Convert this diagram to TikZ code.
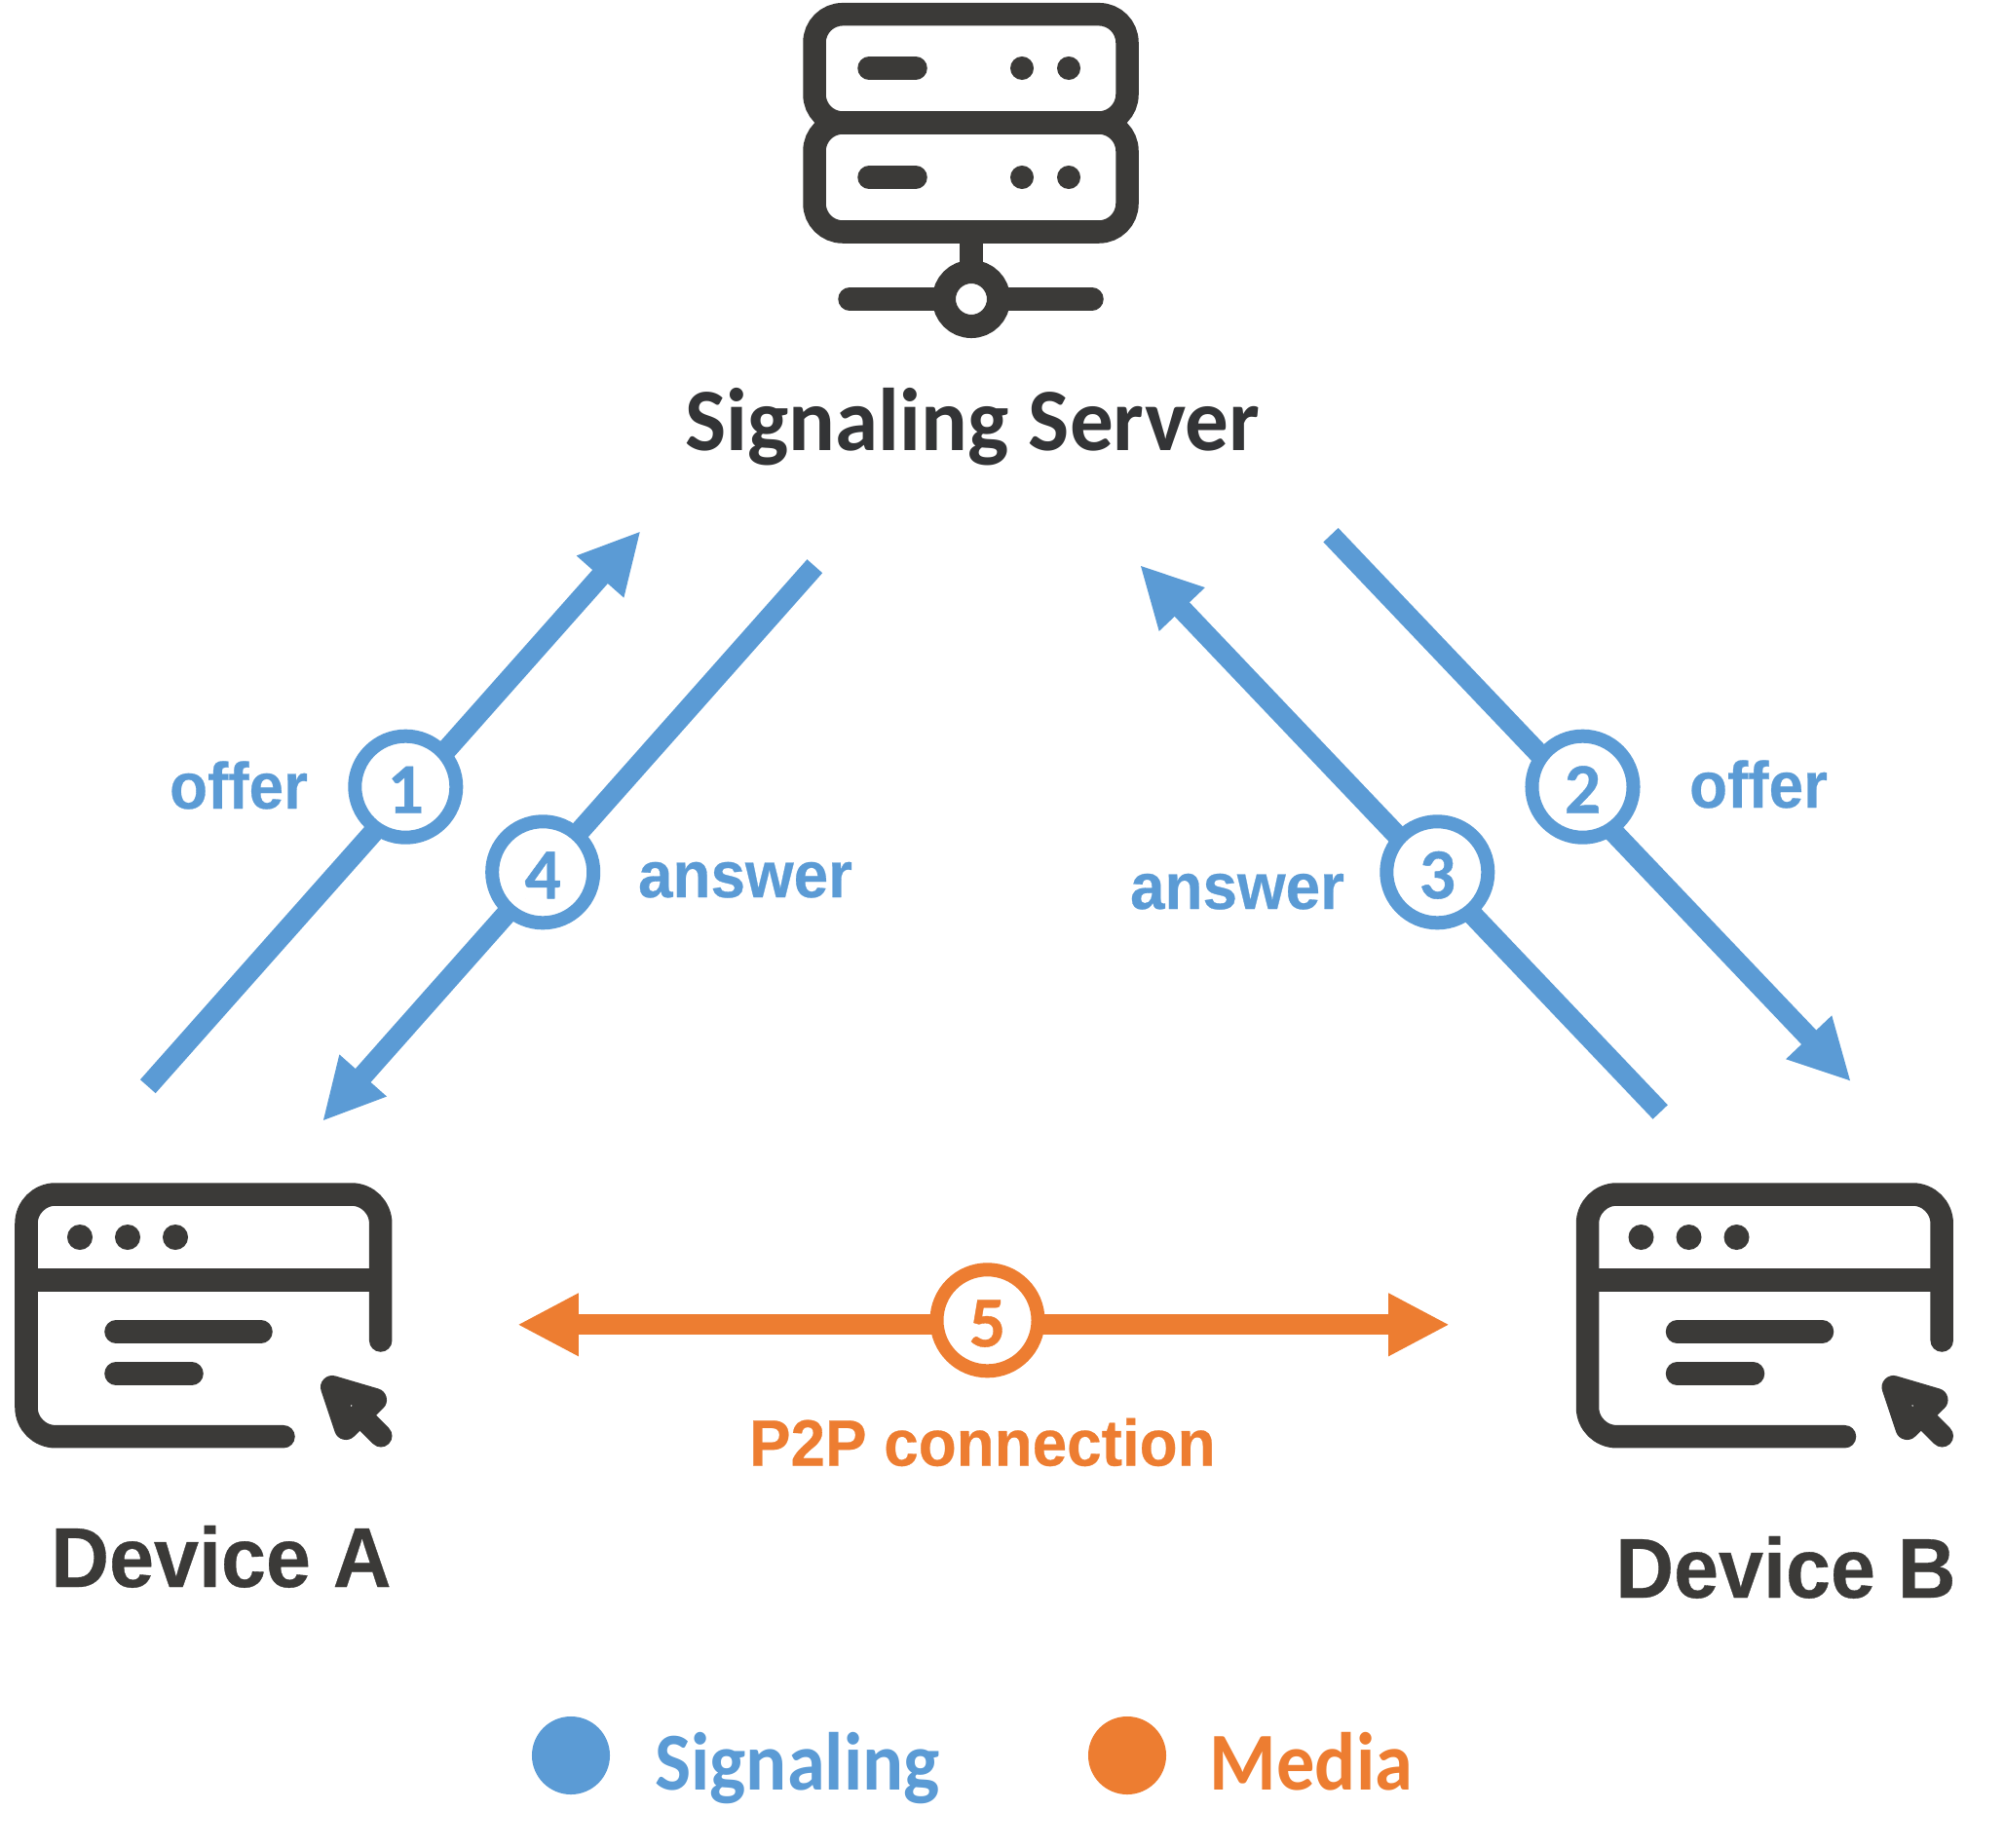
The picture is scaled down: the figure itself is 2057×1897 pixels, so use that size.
\documentclass[tikz,border=0pt]{standalone}
\usepackage{fontspec}
\usepackage{xcolor}
\usepackage{tikz}
\usetikzlibrary{arrows.meta}
\newfontfamily\armfont[FakeStretch=0.95,BoldFeatures={FakeBold=0.4}]{Liberation Sans}
\newfontfamily\capfont[FakeStretch=0.975]{Carlito}
\newfontfamily\keyfont[FakeStretch=0.93]{Carlito}
\newfontfamily\numfont[BoldFeatures={FakeBold=0.5}]{Carlito}
\definecolor{sigblue}{HTML}{5B9BD5}
\definecolor{medorange}{HTML}{ED7D31}
\definecolor{icondark}{HTML}{3B3A38}
\definecolor{servertext}{HTML}{333436}
\tikzset{
  icon/.style={icondark, line width=0.235cm, line cap=round},
  dot/.style={icondark, fill},
  sigflow/.style={line width=0.21cm, sigblue, -{Triangle[length=0.628cm,width=0.6cm]}},
  medflow/.style={line width=0.21cm, medorange, {Triangle[length=0.628cm,width=0.6cm]}-{Triangle[length=0.628cm,width=0.6cm]}},
  badge/.style={circle, draw, fill=white, line width=0.14cm, minimum size=1.04cm, inner sep=0pt, text height=0.54cm, text depth=0pt, font=\numfont\bfseries\fontsize{21}{24}\selectfont},
  sigbadge/.style={badge, draw=sigblue, text=sigblue},
  medbadge/.style={badge, draw=medorange, text=medorange},
  lab/.style={anchor=base, inner sep=0pt, font=\armfont\bfseries\fontsize{19.1}{24}\selectfont},
  devlab/.style={anchor=base, inner sep=0pt, text=icondark, font=\armfont\bfseries\fontsize{24.75}{30}\selectfont},
  captext/.style={anchor=base, inner sep=0pt, font=\keyfont\bfseries\fontsize{24}{30}\selectfont},
  keydot/.style={circle, minimum size=0.8cm, inner sep=0pt},
}
\begin{document}
\begin{tikzpicture}[x=0.01cm,y=-0.01cm]
    \useasboundingbox (0,0) rectangle (2057,1897);

    %Server
    \draw[icon, rounded corners=0.29cm] (836,14.7) rectangle (1157,126);
    \draw[icon, rounded corners=0.29cm] (836,126) rectangle (1157,238);
    \foreach \rowy in {70,182} {
      \draw[icon] (892,\rowy) -- (940,\rowy);
      \fill[dot] (1049,\rowy) circle (0.12cm);
      \fill[dot] (1097,\rowy) circle (0.12cm);
    }
    \draw[icon, line cap=butt] (997,238) -- (997,280);
    \draw[icon] (872,307) -- (1121,307);
    \draw[icondark, fill=white, line width=0.24cm] (997,307) circle (0.28cm);
    \node[captext, text=servertext, font=\capfont\bfseries\fontsize{26}{30}\selectfont] (server) at (998.3,462.5) {Signaling Server};

    %Devices
    \foreach \dx in {0,1602.5} {
      \begin{scope}[shift={(\dx,0)}]
        \draw[icon, rounded corners=0.3cm] (390.7,1376) -- (390.7,1226) -- (27,1226) -- (27,1474.7) -- (291,1474.7);
        \draw[icon, line cap=butt] (27,1314) -- (390.7,1314);
        \foreach \dotx in {82,131,180}
          \fill[dot] (\dotx,1270) circle (0.13cm);
        \draw[icon] (119,1367) -- (268,1367);
        \draw[icon] (119,1410) -- (197,1410);
        % cursor
        \draw[icon, line join=round, line width=0.24cm] (341,1424) -- (385,1437) -- (355,1466) -- cycle;
        \draw[icon, line width=0.23cm] (370,1453) -- (391,1474);
      \end{scope}
    }
    \node[devlab] (deva) at (227,1629) {Device A};
    \node[devlab] (devb) at (1833,1640) {Device B};

    %Signaling arrows
    \coordinate (tailone) at (151.8,1115.2);
    \coordinate (tipone) at (657.7,545);
    \coordinate (tailfour) at (836.3,581.2);
    \coordinate (tipfour) at (331,1151);
    \coordinate (tailtwo) at (1366,549.2);
    \coordinate (tiptwo) at (1900,1110.3);
    \coordinate (tailthree) at (1704.2,1141.5);
    \coordinate (tipthree) at (1170,580);
    \draw[sigflow] (tailone) -- (tipone);
    \draw[sigflow] (tailfour) -- (tipfour);
    \draw[sigflow] (tailtwo) -- (tiptwo);
    \draw[sigflow] (tailthree) -- (tipthree);
    \node[sigbadge] (one) at (416.3,807.7) {1};
    \node[sigbadge] (four) at (557.2,895.3) {4};
    \node[sigbadge] (two) at (1624.5,807.7) {2};
    \node[sigbadge] (three) at (1475.3,895.3) {3};
    \node[lab, sigblue] (offerl) at (245,830) {offer};
    \node[lab, sigblue] (offerr) at (1805,829) {offer};
    \node[lab, sigblue] (answerl) at (765,921) {answer};
    \node[lab, sigblue] (answerr) at (1270,933) {answer};

    %Media arrow
    \coordinate (tipa) at (531,1359.8);
    \coordinate (tipb) at (1488,1359.8);
    \draw[medflow] (tipa) -- (tipb);
    \node[medbadge] (five) at (1013.5,1355.3) {5};
    \node[lab, medorange] (ptwop) at (1008.3,1504.5) {P2P connection};

    %Legend
    \node[keydot, fill=sigblue] (keysig) at (586,1802) {};
    \node[keydot, fill=medorange] (keymed) at (1157,1802) {};
    \node[captext, sigblue] (signaling) at (818.5,1837) {Signaling};
    \node[captext, medorange] (media) at (1346,1837) {Media};
\end{tikzpicture}
\end{document}
